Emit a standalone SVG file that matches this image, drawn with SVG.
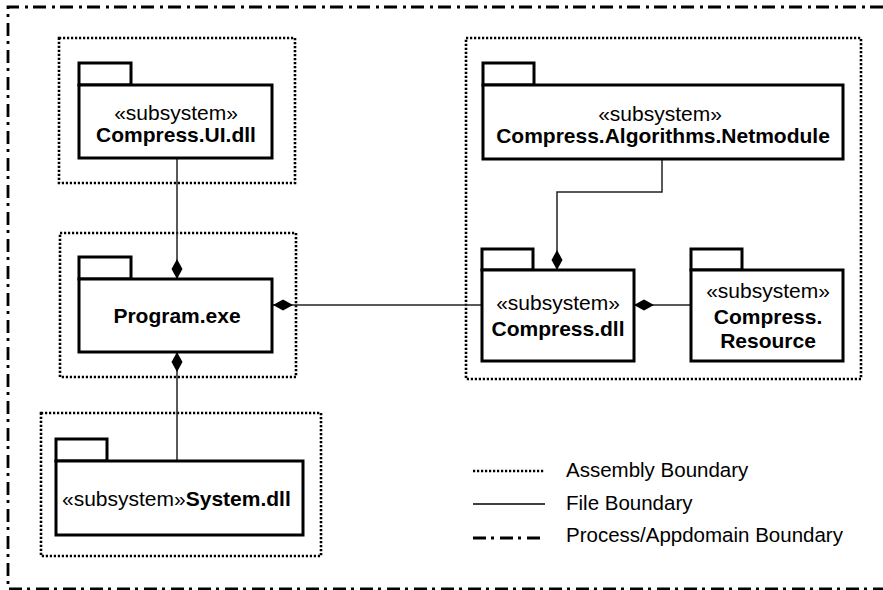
<svg xmlns="http://www.w3.org/2000/svg" width="883" height="590" viewBox="0 0 883 590">
<style>
.bg{fill:#fff}
.proc{fill:none;stroke:#000;stroke-width:2.8;stroke-dasharray:13 5 3 6}
.asm{fill:none;stroke:#000;stroke-width:2.6;stroke-dasharray:2.2 1.8}
.pkg{fill:#fff;stroke:#000;stroke-width:3}
.con{fill:none;stroke:#222;stroke-width:1.5}
.st{font-family:"Liberation Sans",Arial,Helvetica,sans-serif;font-size:21px;fill:#000}
.nm{font-family:"Liberation Sans",Arial,Helvetica,sans-serif;font-size:21px;font-weight:bold;fill:#000}
.lg{font-family:"Liberation Sans",Arial,Helvetica,sans-serif;font-size:20.5px;fill:#000}
</style>
<defs>
<marker id="dia" markerWidth="20" markerHeight="12" refX="0" refY="6" orient="auto" markerUnits="userSpaceOnUse" viewBox="0 0 20 12">
<path d="M0,6 L10,0.5 L20,6 L10,11.5 Z" fill="#000"/>
</marker>
</defs>
<rect class="bg" x="0" y="0" width="883" height="590"/>
<path id="process-boundary" class="proc" d="M883,7 H8 V589 H883"/>
<g id="assembly-boundaries">
<rect class="asm" x="59" y="38" width="236" height="145"/>
<rect class="asm" x="60" y="233" width="236" height="144"/>
<rect class="asm" x="41" y="413" width="280" height="143"/>
<rect class="asm" x="466" y="38" width="395" height="341"/>
</g>
<g id="connectors">
<path class="con" d="M177,279 V158" marker-start="url(#dia)"/>
<path class="con" d="M273,305 H482" marker-start="url(#dia)"/>
<path class="con" d="M177,352 V461" marker-start="url(#dia)"/>
<path class="con" d="M557,270 V192 H662 V159" marker-start="url(#dia)"/>
<path class="con" d="M634,305 H691" marker-start="url(#dia)"/>
</g>
<g id="compress-ui">
<rect class="pkg" x="79" y="63" width="52" height="22"/>
<rect class="pkg" x="79" y="85" width="193" height="73"/>
<text class="st" x="176" y="120" text-anchor="middle">«subsystem»</text>
<text class="nm" x="176" y="142" text-anchor="middle">Compress.UI.dll</text>
</g>
<g id="program-exe">
<rect class="pkg" x="79" y="257" width="52" height="22"/>
<rect class="pkg" x="79" y="279" width="193" height="73"/>
<text class="nm" x="177" y="323" text-anchor="middle">Program.exe</text>
</g>
<g id="system-dll">
<rect class="pkg" x="56" y="439" width="51" height="22"/>
<rect class="pkg" x="56" y="461" width="247" height="74"/>
<text x="62" y="506"><tspan class="st">«subsystem»</tspan><tspan class="nm">System.dll</tspan></text>
</g>
<g id="netmodule">
<rect class="pkg" x="483" y="63" width="51" height="22"/>
<rect class="pkg" x="483" y="85" width="360" height="74"/>
<text class="st" x="660" y="121" text-anchor="middle">«subsystem»</text>
<text class="nm" x="663" y="143" text-anchor="middle">Compress.Algorithms.Netmodule</text>
</g>
<g id="compress-dll">
<rect class="pkg" x="482" y="249" width="51" height="21"/>
<rect class="pkg" x="482" y="270" width="152" height="91"/>
<text class="st" x="558" y="310" text-anchor="middle">«subsystem»</text>
<text class="nm" x="558" y="336" text-anchor="middle">Compress.dll</text>
</g>
<g id="compress-resource">
<rect class="pkg" x="691" y="249" width="51" height="21"/>
<rect class="pkg" x="691" y="270" width="152" height="91"/>
<text class="st" x="768" y="298" text-anchor="middle">«subsystem»</text>
<text class="nm" x="768" y="324" text-anchor="middle">Compress.</text>
<text class="nm" x="768" y="348" text-anchor="middle">Resource</text>
</g>
<g id="legend">
<line class="asm" x1="473" y1="471" x2="545" y2="471"/>
<line x1="473" y1="504" x2="545" y2="504" stroke="#000" stroke-width="1.5"/>
<line class="proc" x1="473" y1="538" x2="545" y2="538"/>
<text class="lg" x="566" y="477">Assembly Boundary</text>
<text class="lg" x="566" y="510">File Boundary</text>
<text class="lg" x="566" y="542">Process/Appdomain Boundary</text>
</g>
</svg>
